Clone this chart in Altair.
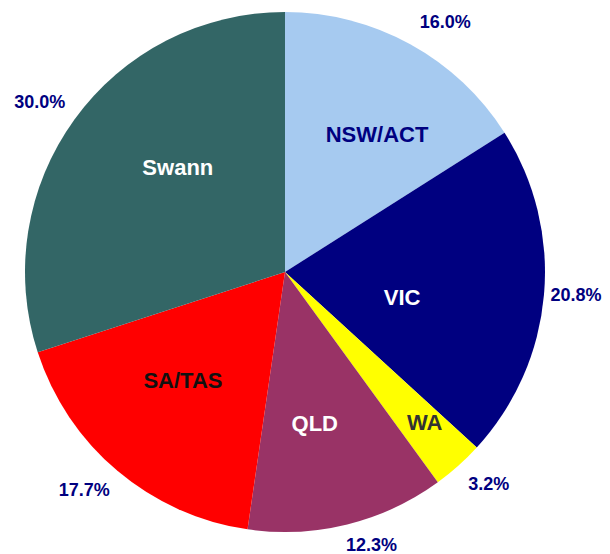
import altair as alt
import pandas as pd

regions = ["NSW/ACT", "VIC", "WA", "QLD", "SA/TAS", "Swann"]
shares = [16.0, 20.8, 3.2, 12.3, 17.7, 30.0]
pct_labels = ["16.0%", "20.8%", "3.2%", "12.3%", "17.7%", "30.0%"]

slice_colors = ["#A6CAF0", "#000080", "#FFFF00", "#993366", "#FF0000", "#336666"]
name_colors = ["#000080", "#FFFFFF", "#333333", "#FFFFFF", "#111111", "#FFFFFF"]
# label placement styling (radius in px, angular shift in degrees from slice middle)
name_radius = [165, 120, 206, 155, 149, 149]
name_shift = [5.1, 7.5, -0.9, 2.8, 3.1, 8.0]
pct_radius = [296, 292, 295, 287, 297, 298]
pct_shift = [4.0, -0.3, -1.9, -3.7, 2.4, -1.4]

df = pd.DataFrame({
    "region": regions,
    "share": shares,
    "pct": pct_labels,
    "ord": list(range(len(regions))),
    "ncol": name_colors,
    "nrad": name_radius,
    "nsh": name_shift,
    "prad": pct_radius,
    "psh": pct_shift,
})

CX, CY, R = 277, 264, 260

pie = alt.Chart(df).mark_arc(outerRadius=R, stroke=None).encode(
    theta=alt.Theta("share:Q", stack=True),
    order=alt.Order("ord:Q"),
    x=alt.value(CX),
    y=alt.value(CY),
    color=alt.Color("region:N", scale=alt.Scale(domain=regions, range=slice_colors), legend=None),
)

lab = alt.Chart(df).transform_joinaggregate(
    total="sum(share)"
).transform_window(
    cum="sum(share)", sort=[alt.SortField("ord")], frame=[None, 0]
).transform_calculate(
    mid="(datum.cum - datum.share / 2) / datum.total * 2 * PI",
).transform_calculate(
    na="datum.mid + datum.nsh * PI / 180",
    pa="datum.mid + datum.psh * PI / 180",
).transform_calculate(
    nx=f"{CX} + datum.nrad * sin(datum.na)",
    ny=f"{CY} - datum.nrad * cos(datum.na)",
    px=f"{CX} + datum.prad * sin(datum.pa)",
    py=f"{CY} - datum.prad * cos(datum.pa)",
)

names = lab.mark_text(font="Liberation Sans", fontWeight="bold", fontSize=22,
                      align="center", baseline="middle").encode(
    x=alt.X("nx:Q", scale=None),
    y=alt.Y("ny:Q", scale=None),
    text="region:N",
    color=alt.Color("ncol:N", scale=None),
)

pcts = lab.mark_text(font="Liberation Sans", fontWeight="bold", fontSize=18,
                     align="center", baseline="middle", color="#000080").encode(
    x=alt.X("px:Q", scale=None),
    y=alt.Y("py:Q", scale=None),
    text="pct:N",
)

chart = alt.layer(pie, names, pcts).properties(
    width=594, height=546, padding=0, autosize=alt.AutoSizeParams(type="none")
).configure_view(stroke=None)

chart.save("out.html", embed_options={"renderer": "svg", "actions": False})
